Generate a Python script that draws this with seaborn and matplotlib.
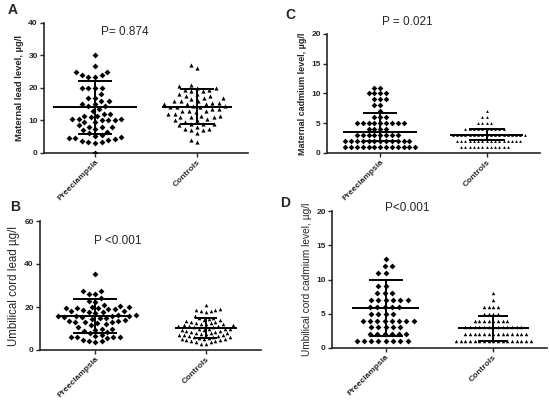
import numpy as np
import pandas as pd
import matplotlib
matplotlib.use("Agg")
import matplotlib.pyplot as plt
import seaborn as sns

sns.set_style("ticks")
plt.rcParams['font.family'] = ['Liberation Sans', 'DejaVu Sans']

groups = ["Preeclampsia", "Controls"]

# panel A: maternal lead (µg/l)
lead_mat_pre = [30, 26.7, 25, 25, 24, 23.5, 23.5, 24, 20, 20, 20, 20, 18, 17, 17, 16, 16,
                15, 15, 14.5, 14.5, 13.5, 13, 12, 12, 11.5, 11.5, 11, 10.5, 10.5, 10.5, 10,
                10, 10, 9.5, 9.5, 8.5, 8, 8, 8, 7.5, 7, 6.5, 6, 5.5, 5.3, 5, 4.5, 4.5, 4.2,
                4, 3.8, 3.5, 3.5, 3.2, 0]
lead_mat_ctrl = [27.2, 26.2, 21, 20.5, 20, 20, 19.5, 19.5, 19, 19, 18, 18, 17.5, 17.5, 17, 17,
                 16.5, 16, 16, 16, 15.5, 15.5, 15, 15, 15, 14.5, 14.5, 14, 14, 14, 13.5, 13.5,
                 13, 13, 13, 12.5, 12, 12, 11.5, 11.5, 11, 11, 11, 10.5, 10, 10, 9.5, 9, 9, 9,
                 8.5, 8, 7.5, 7.5, 7, 7, 6, 4, 3.5]

# panel B: umbilical cord lead (µg/l)
lead_cord_pre = [35.5, 27.5, 27.5, 26, 26, 24, 23, 22.5, 21, 20.5, 20, 20, 19.5, 19.5, 19.5,
                 19, 19, 18.5, 18, 18, 17.5, 17.5, 17, 16.5, 16.5, 16, 16, 16, 16, 15.5, 15.5,
                 15, 15, 14.5, 14, 13.5, 13.5, 13, 13, 13, 12.5, 12, 11.5, 10.5, 10, 10, 9.5,
                 9, 8.5, 8, 7, 6.5, 6, 6, 6, 6, 5.5, 4.5, 4, 4, 3.5]
lead_cord_ctrl = [21, 19, 18.5, 18.5, 18, 18, 17.5, 16, 15, 15, 14.5, 14, 14, 13.5, 13, 13,
                  12.5, 12.5, 12, 12, 12, 11.5, 11.5, 11, 11, 11, 10.5, 10.5, 10, 10, 10, 10,
                  9.5, 9.5, 9, 9, 8.5, 8.5, 8, 8, 8, 7.5, 7.5, 7, 7, 7, 6.5, 6.5, 6, 6, 6, 5.5,
                  5.5, 5, 5, 5, 4.5, 4.5, 4, 4, 3.5, 3.5, 3, 3]

# panel C: maternal cadmium (µg/l)
cd_mat_pre = [11]*2 + [10]*4 + [9]*3 + [8]*2 + [7]*1 + [6]*3 + [5]*9 + [4]*4 + [3]*8 + [2]*12 + [1]*13
cd_mat_ctrl = [7]*1 + [6]*2 + [5]*4 + [4]*10 + [3]*18 + [2]*16 + [1]*12

# panel D: umbilical cord cadmium (µg/l)
cd_cord_pre = [13]*1 + [12]*2 + [11]*2 + [9]*2 + [8]*3 + [7]*6 + [6]*5 + [5]*4 + [4]*8 + [3]*5 + [2]*6 + [1]*8
cd_cord_ctrl = [8]*1 + [7]*1 + [6]*4 + [5]*4 + [4]*8 + [3]*13 + [2]*14 + [1]*17

# centre line and whiskers: (centre, low, high) per group
bars_A = [(14.0, 5.7, 22.3), (14.2, 8.8, 19.6)]
bars_B = [(15.8, 7.8, 23.5), (10.2, 5.8, 14.7)]
bars_C = [(3.5, 2.0, 6.8), (3.0, 2.2, 4.0)]
bars_D = [(5.9, 1.8, 9.95), (2.85, 0.95, 4.6)]

panels = [
    dict(rect=[0.08, 0.6175, 0.371, 0.325], pre=lead_mat_pre, ctrl=lead_mat_ctrl, bars=bars_A,
         ylim=40, yticks=[0, 10, 20, 30, 40], ylabel="Maternal lead level, µg/l",
         lab_w="bold", lab_fs=6.8, letter="A", letter_xy=(8, 10), p="P= 0.874", p_xy=(125, 32),
         swarm=(4.6, 4.6), vis=(3.0, 3.0), mean_w=(0.41, 0.34), cap_w=(0.165, 0.165)),
    dict(rect=[0.5945, 0.6175, 0.387, 0.2975], pre=cd_mat_pre, ctrl=cd_mat_ctrl, bars=bars_C,
         ylim=20, yticks=[0, 5, 10, 15, 20], ylabel="Maternal cadmium level, µg/l",
         lab_w="bold", lab_fs=6.5, letter="C", letter_xy=(285, 15), p="P = 0.021", p_xy=(407, 22),
         swarm=(4.0, 2.9), vis=(2.9, 2.0), mean_w=(0.35, 0.34), cap_w=(0.16, 0.17)),
    dict(rect=[0.0727, 0.125, 0.402, 0.3225], pre=lead_cord_pre, ctrl=lead_cord_ctrl, bars=bars_B,
         ylim=60, yticks=[0, 20, 40, 60], ylabel="Umbilical cord lead µg/l",
         lab_w="normal", lab_fs=8.3, letter="B", letter_xy=(10, 207), p="P <0.001", p_xy=(118, 241),
         swarm=(4.4, 3.4), vis=(3.0, 2.6), mean_w=(0.32, 0.28), cap_w=(0.2, 0.1)),
    dict(rect=[0.6036, 0.13, 0.391, 0.3425], pre=cd_cord_pre, ctrl=cd_cord_ctrl, bars=bars_D,
         ylim=20, yticks=[0, 5, 10, 15, 20], ylabel="Umbilical cord cadmium level, µg/l",
         lab_w="normal", lab_fs=7.3, letter="D", letter_xy=(280, 203), p="P<0.001", p_xy=(407, 208),
         swarm=(5.0, 3.2), vis=(3.0, 2.5), mean_w=(0.31, 0.33), cap_w=(0.16, 0.14)),
]

fig = plt.figure(figsize=(5.5, 4), dpi=100)
shrink = []

for pn in panels:
    ax = fig.add_axes(pn["rect"])
    for i, (vals, mk) in enumerate([(pn["pre"], "D"), (pn["ctrl"], "^")]):
        df = pd.DataFrame({"group": groups[i], "value": vals})
        n0 = len(ax.collections)
        sns.swarmplot(data=df, x="group", y="value", order=groups, color="black",
                      marker=mk, size=pn["swarm"][i], linewidth=0, ax=ax, warn_thresh=1.0)
        for c in ax.collections[n0:]:
            shrink.append((c, pn["vis"][i]))
    for i, (m, lo, hi) in enumerate(pn["bars"]):
        mw, cw = pn["mean_w"][i], pn["cap_w"][i]
        ax.hlines(m, i - mw, i + mw, color="black", lw=1.4, zorder=5)
        ax.hlines([lo, hi], i - cw, i + cw, color="black", lw=1.4, zorder=5)
        ax.vlines(i, lo, hi, color="black", lw=1.4, zorder=5)

    ax.set_xlim(-0.5, 1.5)
    ax.set_ylim(0, pn["ylim"])
    ax.set_yticks(pn["yticks"])
    ax.set_xlabel("")
    ax.set_ylabel(pn["ylabel"], fontsize=pn["lab_fs"], fontweight=pn["lab_w"], labelpad=3)
    ax.set_xticks([0, 1])
    ax.set_xticklabels(groups, rotation=45, ha="right", rotation_mode="anchor",
                       fontsize=6, fontweight="bold")
    for t in ax.get_yticklabels():
        t.set_fontsize(6)
        t.set_fontweight("bold")
    ax.tick_params(length=3, width=1, pad=1.5)
    ax.tick_params(axis="x", pad=1)
    sns.despine(ax=ax)
    for s in ["left", "bottom"]:
        ax.spines[s].set_linewidth(1.2)

    lx, ly = pn["letter_xy"]
    fig.text(lx / 550, 1 - ly / 400, pn["letter"], fontsize=10, fontweight="bold",
             ha="left", va="center")
    px, py = pn["p_xy"]
    fig.text(px / 550, 1 - py / 400, pn["p"], fontsize=8.5, ha="center", va="center")

# lay out the swarms with the wider spacing, then freeze them and draw smaller markers
fig.canvas.draw()
for c, vis in shrink:
    if "draw" in c.__dict__:
        del c.draw
    c.set_sizes([vis ** 2])

fig.savefig("out.png", dpi=100)
